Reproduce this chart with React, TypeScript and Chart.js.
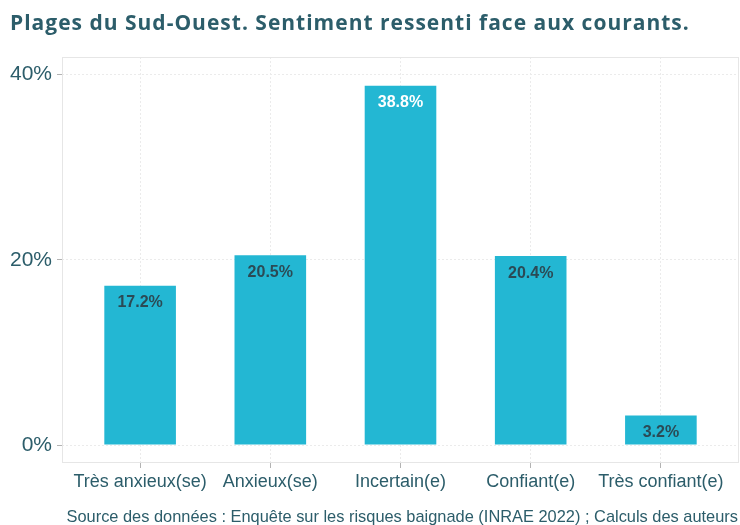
import React, { useEffect, useRef } from "react";
import { Chart, registerables } from "chart.js";

Chart.register(...registerables);

const categories = ["Très anxieux(se)", "Anxieux(se)", "Incertain(e)", "Confiant(e)", "Très confiant(e)"];
const values = [17.2, 20.5, 38.8, 20.4, 3.2];
const yTicks = [0, 20, 40];
const title = "Plages du Sud-Ouest. Sentiment ressenti face aux courants.";
const caption = "Source des données : Enquête sur les risques baignade (INRAE 2022) ; Calculs des auteurs";

const TEAL = "#2c5d6a";
const BAR = "#23b7d3";

export default function App() {
  const ref = useRef<HTMLCanvasElement>(null);
  useEffect(() => {
    if (!ref.current) return;
    const extras = {
      id: "extras",
      beforeDatasetsDraw(chart: any) {
        const { ctx, chartArea } = chart;
        ctx.save();
        ctx.strokeStyle = "#e6e6e6";
        ctx.lineWidth = 1;
        ctx.strokeRect(chartArea.left + 0.5, chartArea.top + 0.5, chartArea.right - chartArea.left - 1, chartArea.bottom - chartArea.top - 1);
        ctx.restore();
      },
      afterDatasetsDraw(chart: any) {
        const { ctx } = chart;
        const meta = chart.getDatasetMeta(0);
        ctx.save();
        ctx.font = "bold 16px 'Liberation Sans', Arial, sans-serif";
        ctx.textAlign = "center";
        ctx.textBaseline = "middle";
        meta.data.forEach((bar: any, i: number) => {
          const v = values[i];
          ctx.fillStyle = v > 30 ? "#ffffff" : "#2b4a55";
          ctx.fillText(v.toFixed(1) + "%", bar.x, bar.y + 17);
        });
        ctx.restore();
      },
      afterDraw(chart: any) {
        const { ctx } = chart;
        ctx.save();
        ctx.fillStyle = TEAL;
        ctx.font = "bold 21px 'Open Sans', Lato, sans-serif";
        try { (ctx as any).letterSpacing = "1px"; } catch (e) {}
        ctx.textAlign = "left";
        ctx.textBaseline = "middle";
        ctx.fillText(title, 10, 24);
        try { (ctx as any).letterSpacing = "0px"; } catch (e) {}
        ctx.font = "16.4px 'Liberation Sans', Arial, sans-serif";
        ctx.textAlign = "right";
        ctx.fillText(caption, 738, 517);
        ctx.restore();
      },
    };
    const chart = new Chart(ref.current, {
      type: "bar",
      data: {
        datasets: [
          {
            data: values.map((v, i) => ({ x: i + 1, y: v })),
            backgroundColor: BAR,
            borderWidth: 0,
            barPercentage: 0.55,
            categoryPercentage: 1,
          },
        ],
      },
      plugins: [extras],
      options: {
        animation: false,
        responsive: false,
        maintainAspectRatio: false,
        layout: { padding: { top: 57, right: 1, left: 0, bottom: 0 } },
        plugins: { legend: { display: false }, tooltip: { enabled: false } },
        scales: {
          x: {
            type: "linear",
            offset: false,
            min: 0.4,
            max: 5.6,
            afterBuildTicks: (s: any) => {
              s.ticks = categories.map((_, i) => ({ value: i + 1 }));
            },
            afterFit: (s: any) => {
              s.height = 62;
            },
            ticks: {
              callback: (v: any) => categories[Math.round(v) - 1] ?? "",
              color: TEAL,
              font: { size: 18, family: "'Liberation Sans', Arial, sans-serif" },
              padding: 3,
              maxRotation: 0,
              autoSkip: false,
            },
            grid: { color: "#ebebeb", lineWidth: 1, tickLength: 5, tickColor: "#b3b3b3", offset: false },
            border: { display: false, dash: [2, 2] },
          },
          y: {
            type: "linear",
            min: -1.94,
            max: 41.9,
            afterBuildTicks: (s: any) => {
              s.ticks = yTicks.map((v) => ({ value: v }));
            },
            afterFit: (s: any) => {
              s.width = 62;
            },
            ticks: {
              callback: (v: any) => v + "%",
              color: TEAL,
              font: { size: 21, family: "'Liberation Sans', Arial, sans-serif" },
              padding: 5,
            },
            grid: { color: "#ebebeb", lineWidth: 1, tickLength: 5, tickColor: "#b3b3b3" },
            border: { display: false, dash: [2, 2] },
          },
        },
      },
    } as any);
    return () => chart.destroy();
  }, []);
  return (
    <div style={{ position: "absolute", left: 0, top: 0, width: 740, height: 525, background: "#fff" }}>
      <canvas ref={ref} width={740} height={525} style={{ width: 740, height: 525 }} />
    </div>
  );
}
